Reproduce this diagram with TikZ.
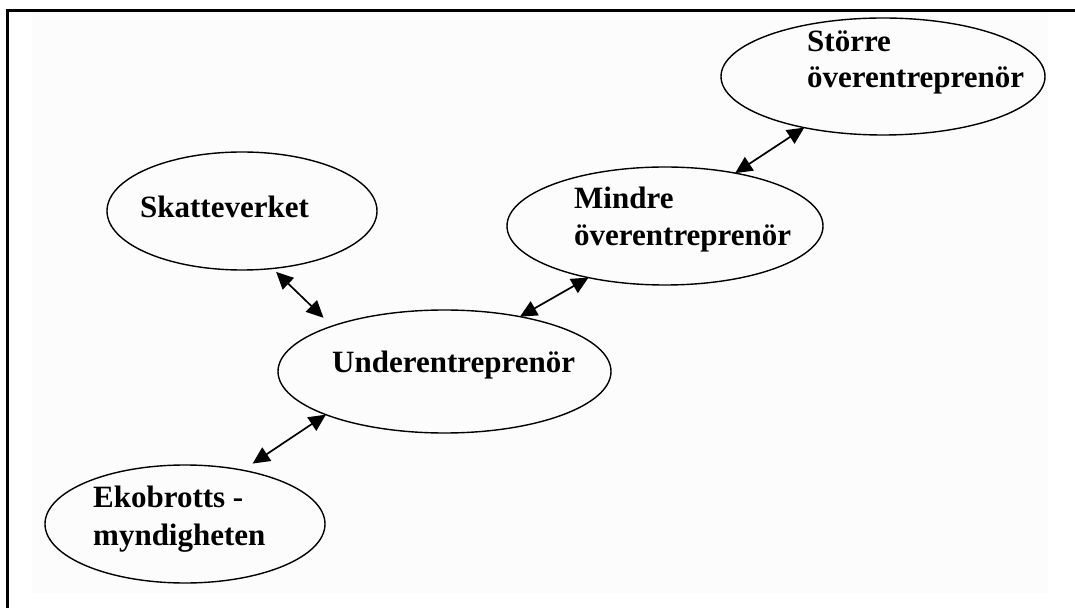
\documentclass[tikz,border=0pt]{standalone}
\usepackage{fontspec}
\setmainfont{Liberation Serif}
\usetikzlibrary{shapes.geometric,arrows.meta}
\definecolor{bgfill}{RGB}{252,252,252}
\begin{document}
\begin{tikzpicture}[x=1pt,y=1pt,
  oval/.style={ellipse,draw,line width=1.4pt,inner sep=0pt,outer sep=0pt},
  lbl/.style={anchor=base west,inner sep=0pt,font=\fontsize{31}{37}\selectfont\bfseries},
  link/.style={line width=1.7pt,{Triangle[length=17pt,width=16pt]}-{Triangle[length=17pt,width=16pt]}}]
\useasboundingbox (0,0) rectangle (1075,608);
\fill[bgfill] (32,15) rectangle (1048,596);
\draw[line width=3pt] (7.3,0) -- (7.3,597.3) -- (1075,597.3);

\node[oval,minimum width=324pt,minimum height=117pt] (st) at (883,531.5) {};
\node[oval,minimum width=270pt,minimum height=118pt] (sk) at (242,397) {};
\node[oval,minimum width=316pt,minimum height=118pt] (mi) at (665,382) {};
\node[oval,minimum width=333pt,minimum height=123pt] (un) at (444.5,236.5) {};
\node[oval,minimum width=280pt,minimum height=118pt] (ek) at (185,84) {};

\node[lbl] (st1) at (807,556) {Större};
\node[lbl] (st2) at (807,520) {överentreprenör};
\node[lbl] (sk1) at (140,390) {Skatteverket};
\node[lbl] (mi1) at (574,399) {Mindre};
\node[lbl] (mi2) at (574,362) {överentreprenör};
\node[lbl] (un1) at (332,236) {Underentreprenör};
\node[lbl] (ek1) at (93,101) {Ekobrotts -};
\node[lbl] (ek2) at (93,63) {myndigheten};

\draw[link] (st.-147.5) -- (mi.37.4);
\draw[link] (mi.-146) -- (un.36.4);
\draw[link,shorten <=5pt,shorten >=12pt] (sk.-62.9) -- (un.158.2);
\draw[link,shorten >=12pt] (un.-160.3) -- (ek.43.1);
\end{tikzpicture}
\end{document}
